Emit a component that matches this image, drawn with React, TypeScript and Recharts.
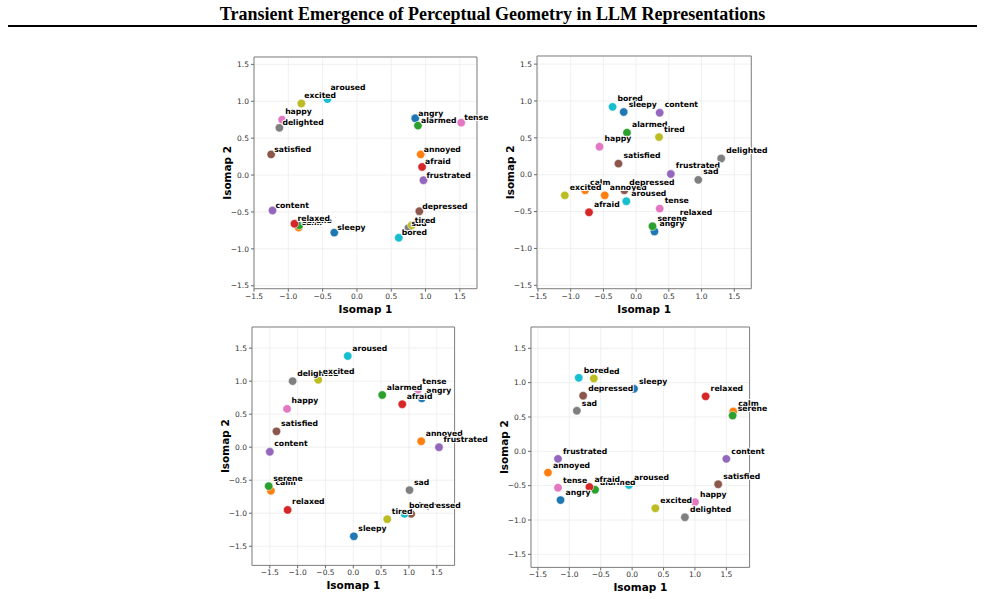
import {
  ScatterChart,
  Scatter,
  XAxis,
  YAxis,
  CartesianGrid,
  ReferenceArea,
} from "recharts";

// emotion words, in plotting order (colours cycle through tab10)
const words = [
  "angry", "annoyed", "alarmed", "afraid", "frustrated",
  "depressed", "tense", "sad", "tired", "bored",
  "sleepy", "calm", "serene", "relaxed", "content",
  "satisfied", "happy", "delighted", "excited", "aroused",
];

const palette = [
  "#1f77b4", "#ff7f0e", "#2ca02c", "#d62728", "#9467bd",
  "#8c564b", "#e377c2", "#7f7f7f", "#bcbd22", "#17becf",
];

const ticks = [-1.5, -1, -0.5, 0, 0.5, 1, 1.5];

const p1X = [0.85, 0.93, 0.89, 0.95, 0.97, 0.91, 1.52, 0.75, 0.8, 0.61, -0.33, -0.85, -0.84, -0.91, -1.23, -1.25, -1.09, -1.13, -0.81, -0.43];
const p1Y = [0.77, 0.28, 0.67, 0.11, -0.07, -0.49, 0.71, -0.72, -0.68, -0.85, -0.78, -0.71, -0.68, -0.66, -0.48, 0.28, 0.75, 0.64, 0.97, 1.03];

const p2X = [0.28, -0.48, -0.14, -0.72, 0.53, -0.18, 0.36, 0.95, 0.35, -0.36, -0.19, -0.78, 0.25, 0.59, 0.36, -0.27, -0.56, 1.3, -1.09, -0.15];
const p2Y = [-0.77, -0.28, 0.57, -0.51, 0.01, -0.21, -0.46, -0.07, 0.51, 0.92, 0.85, -0.21, -0.7, -0.62, 0.84, 0.15, 0.38, 0.22, -0.28, -0.36];

const p3X = [1.23, 1.22, 0.52, 0.88, 1.54, 1.04, 1.16, 1.01, 0.61, 0.92, 0.01, -1.48, -1.52, -1.18, -1.5, -1.38, -1.19, -1.09, -0.63, -0.1];
const p3Y = [0.74, 0.09, 0.79, 0.65, 0.0, -1.01, 0.87, -0.65, -1.09, -1.01, -1.35, -0.66, -0.59, -0.95, -0.07, 0.24, 0.58, 1.0, 1.02, 1.38];

const p4X = [-1.14, -1.34, -0.59, -0.68, -1.18, -0.78, -1.18, -0.88, -0.61, -0.85, 0.03, 1.61, 1.6, 1.17, 1.5, 1.37, 1.0, 0.84, 0.37, -0.05];
const p4Y = [-0.71, -0.31, -0.56, -0.52, -0.11, 0.81, -0.53, 0.59, 1.06, 1.07, 0.91, 0.58, 0.52, 0.8, -0.11, -0.48, -0.74, -0.96, -0.83, -0.49];

interface Point {
  word: string;
  color: string;
  x: number;
  y: number;
}

const makePoints = (xs: number[], ys: number[]): Point[] =>
  words.map((w, i) => ({ word: w, color: palette[i % 10], x: xs[i], y: ys[i] }));

// a few labels in the first subplot were pushed further up (px)
const p1Lift: Record<string, number> = { aroused: -7, excited: -3, happy: -3 };

// plot-area boxes (page pixels) and axis limits for each subplot
const panels = [
  { left: 253.7, top: 57, width: 223, height: 231.7, xDom: [-1.5, 1.75], yDom: [-1.54, 1.6], dx: 3, dy: -5, lift: p1Lift, data: makePoints(p1X, p1Y) },
  { left: 536.7, top: 56, width: 214.3, height: 232.7, xDom: [-1.515, 1.76], yDom: [-1.546, 1.61], dx: 5, dy: -8, lift: {}, data: makePoints(p2X, p2Y) },
  { left: 251.7, top: 327.3, width: 202.6, height: 238.4, xDom: [-1.82, 1.82], yDom: [-1.79, 1.82], dx: 4.5, dy: -8, lift: {}, data: makePoints(p3X, p3Y) },
  { left: 530.7, top: 327.3, width: 218.6, height: 240.4, xDom: [-1.61, 1.87], yDom: [-1.69, 1.81], dx: 5, dy: -7.5, lift: {}, data: makePoints(p4X, p4Y) },
];

const Y_W = 45;
const X_H = 40;
const M = { top: 5, right: 5, bottom: 0, left: 0 };

const fmt = (v: number) => (v < 0 ? "\u2212" : "") + Math.abs(v).toFixed(1);

const tickStyle = { fontSize: 7.5, fill: "#333", fontFamily: "DejaVu Sans" };
const boldFont = "DejaVu Sans";

const Panel = ({ p }: { p: (typeof panels)[number] }) => {
  const lift = p.lift as Record<string, number>;
  const dot = (props: any) => (
    <circle
      cx={props.cx}
      cy={props.cy}
      r={4.2}
      fill={props.payload.color}
      stroke="#fff"
      strokeWidth={0.5}
    />
  );
  const label = (props: any) => (
    <text
      x={props.cx + p.dx}
      y={props.cy + p.dy + (lift[props.payload.word] || 0)}
      dominantBaseline="central"
      fontFamily={boldFont}
      fontWeight="bold"
      fontSize={7.7}
      fill="#000"
      stroke="#fff"
      strokeWidth={2}
      paintOrder="stroke"
      strokeLinejoin="round"
    >
      {props.payload.word}
    </text>
  );

  return (
    <div
      style={{
        position: "absolute",
        left: p.left - Y_W - M.left,
        top: p.top - M.top,
      }}
    >
      <ScatterChart
        width={p.width + Y_W + M.left + M.right}
        height={p.height + X_H + M.top + M.bottom}
        margin={M}
      >
        <CartesianGrid stroke="#ececec" strokeWidth={0.8} />
        <XAxis
          type="number"
          dataKey="x"
          domain={p.xDom}
          ticks={ticks}
          height={X_H}
          axisLine={false}
          tickLine={{ stroke: "#666" }}
          tickSize={3}
          tickMargin={1.5}
          tick={tickStyle}
          tickFormatter={fmt}
          interval={0}
          label={({ viewBox }: any) => (
            <text
              x={viewBox.x + viewBox.width / 2}
              y={viewBox.y + 20}
              textAnchor="middle"
              dominantBaseline="central"
              fontFamily={boldFont}
              fontWeight="bold"
              fontSize={10.5}
              fill="#000"
            >
              Isomap 1
            </text>
          )}
        />
        <YAxis
          type="number"
          dataKey="y"
          domain={p.yDom}
          ticks={ticks}
          width={Y_W}
          axisLine={false}
          tickLine={{ stroke: "#666" }}
          tickSize={3}
          tickMargin={2}
          tick={tickStyle}
          tickFormatter={fmt}
          interval={0}
          label={({ viewBox }: any) => {
            const x = viewBox.x + viewBox.width - 27;
            const y = viewBox.y + viewBox.height / 2;
            return (
              <text
                x={x}
                y={y}
                transform={`rotate(-90 ${x} ${y})`}
                textAnchor="middle"
                dominantBaseline="central"
                fontFamily={boldFont}
                fontWeight="bold"
                fontSize={10.5}
                fill="#000"
              >
                Isomap 2
              </text>
            );
          }}
        />
        <ReferenceArea
          x1={p.xDom[0]}
          x2={p.xDom[1]}
          y1={p.yDom[0]}
          y2={p.yDom[1]}
          fill="none"
          stroke="#808080"
          strokeWidth={1}
          ifOverflow="visible"
        />
        <Scatter data={p.data} shape={dot} isAnimationActive={false} />
        <Scatter data={p.data} shape={label} isAnimationActive={false} />
      </ScatterChart>
    </div>
  );
};

export default function App() {
  return (
    <div
      style={{
        position: "absolute",
        left: 0,
        top: 0,
        width: 985,
        height: 599,
        background: "#fff",
      }}
    >
      {/* labels near the right edge spill past the axes box, like matplotlib annotations */}
      <style>{`.recharts-surface { overflow: visible !important; } .recharts-wrapper { overflow: visible !important; }`}</style>
      <div
        style={{
          position: "absolute",
          left: 0,
          top: 3,
          width: 985,
          textAlign: "center",
          fontFamily: "'Liberation Serif', serif",
          fontWeight: "bold",
          fontSize: 18,
          lineHeight: "22px",
          color: "#000",
        }}
      >
        Transient Emergence of Perceptual Geometry in LLM Representations
      </div>
      <div
        style={{
          position: "absolute",
          left: 8,
          top: 25,
          width: 969,
          height: 2,
          background: "#000",
        }}
      />
      {panels.map((p, i) => (
        <Panel key={i} p={p} />
      ))}
    </div>
  );
}
